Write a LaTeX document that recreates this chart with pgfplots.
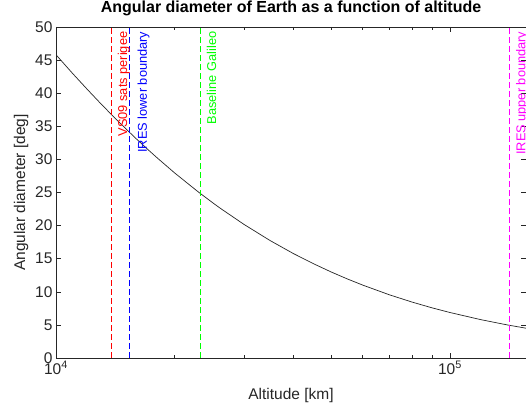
\documentclass[border=0pt]{standalone}
\usepackage{fontspec}
\setmainfont{Liberation Sans}
\usepackage{pgfplots}
\pgfplotsset{compat=1.18}

\definecolor{axgray}{rgb}{0.15,0.15,0.15}
\definecolor{mred}{rgb}{1,0,0}
\definecolor{mblue}{rgb}{0,0,1}
\definecolor{mgreen}{rgb}{0,1,0}
\definecolor{mmag}{rgb}{1,0,1}

\begin{document}
\begin{tikzpicture}
\begin{axis}[
    scale only axis,
    width=470pt, height=331pt,
    xmode=log,
    xmin=1e4, xmax=1.56e5,
    ymin=0, ymax=50,
    ytick={0,5,...,50},
    xtick={1e4,1e5},
    xticklabels={10\textsuperscript{4},10\textsuperscript{5}},
    minor xtick={2e4,3e4,4e4,5e4,6e4,7e4,8e4,9e4},
    /pgf/number format/assume math mode=true,
    tick align=inside,
    major tick length=5pt, minor tick length=3pt,
    axis line style={axgray, line width=0.6pt},
    every tick/.style={axgray, line width=0.5pt},
    tick label style={font=\fontsize{15.5}{18}\selectfont, text=axgray},
    label style={font=\fontsize{15.5}{18}\selectfont, text=axgray},
    title style={font=\fontsize{16}{19}\selectfont\bfseries, at={(axis description cs:0.5,1)}, anchor=base, yshift=8pt},
    xlabel style={at={(axis description cs:0.5,-0.124)}, anchor=base},
    ylabel style={at={(axis description cs:-0.066,0.5)}, anchor=base},
    title={Angular diameter of Earth as a function of altitude},
    xlabel={Altitude [km]},
    ylabel={Angular diameter [deg]},
]
% angular diameter of Earth vs altitude
\addplot[black!85, line width=0.7pt] coordinates {
    (10000,45.80) (11000,43.03) (12000,40.59) (13000,38.40)
    (14000,36.45) (15000,34.69) (16000,33.09) (17000,31.64)
    (18000,30.31) (20000,27.96) (23000,25.06) (25000,23.44)
    (26000,22.70) (30000,20.18) (35000,17.72) (40000,15.79)
    (45000,14.25) (50000,12.98) (55000,11.92) (60000,11.02)
    (70000,9.57) (80000,8.46) (90000,7.58) (100000,6.87)
    (120000,5.78) (140000,4.99) (156000,4.50)
};

% reference altitudes
\addplot[draw=mred, dash pattern=on 6pt off 3pt, line width=1.5pt] coordinates {(13846,0) (13846,50)};
\addplot[draw=mblue, dash pattern=on 6pt off 3pt, line width=1.5pt] coordinates {(15348,0) (15348,50)};
\addplot[draw=mgreen, dash pattern=on 6pt off 3pt, line width=1.2pt] coordinates {(23300,0) (23300,50)};
\addplot[draw=mmag, dash pattern=on 6pt off 3pt, line width=1.5pt] coordinates {(141500,0) (141500,50)};

\node[text=mred, rotate=90, anchor=north east, inner sep=0pt, font=\fontsize{12.8}{15}\selectfont]
    at ([shift={(6pt,-4.5pt)}]axis cs:13846,50) {VS09 sats perigee};
\node[text=mblue, rotate=90, anchor=north east, inner sep=0pt, font=\fontsize{12.8}{15}\selectfont]
    at ([shift={(8pt,-4.5pt)}]axis cs:15348,50) {IRES lower boundary};
\node[text=mgreen, rotate=90, anchor=north east, inner sep=0pt, font=\fontsize{12.8}{15}\selectfont]
    at ([shift={(6pt,-4.5pt)}]axis cs:23300,50) {Baseline Galileo};
\node[text=mmag, rotate=90, anchor=north east, inner sep=0pt, font=\fontsize{12.8}{15}\selectfont]
    at ([shift={(6.5pt,-4.5pt)}]axis cs:141500,50) {IRES upper boundary};
\end{axis}
\pgfresetboundingbox
\path[use as bounding box] ([shift={(-56pt,-46pt)}]current axis.south west)
    rectangle ([shift={(0pt,27pt)}]current axis.north east);
\end{tikzpicture}
\end{document}
